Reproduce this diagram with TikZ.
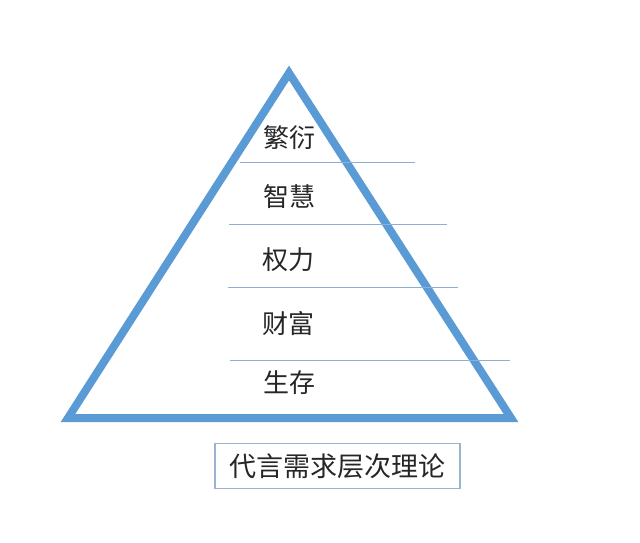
\documentclass[tikz,border=0pt]{standalone}
\usepackage{fontspec}
\newfontfamily\cjk{Noto Sans CJK SC}
\definecolor{pyrblue}{HTML}{5B9BD5}
\definecolor{rulblue}{HTML}{8EAED8}
\definecolor{boxblue}{HTML}{9BB3CF}
\begin{document}
\begin{tikzpicture}[
    x=1pt, y=-1pt,
    level/.style={font=\cjk\fontsize{26}{30}\selectfont, text=black!85, inner sep=0pt},
    rule/.style={draw=rulblue, line width=0.9pt},
    title/.style={draw=boxblue, line width=1.2pt, font=\cjk\fontsize{27}{31}\selectfont, text=black!85, minimum width=245pt, minimum height=45pt, inner sep=0pt}
]
    \useasboundingbox (0,0) rectangle (640,543);

    % Pyramid
    \coordinate (top) at (289,73);
    \coordinate (bl) at (68,418);
    \coordinate (br) at (511,418);
    \draw[pyrblue, line width=8pt, miter limit=10] (top) -- (br) -- (bl) -- cycle;

    % Dividing lines
    \draw[rule] (240,162) -- (415,162);
    \draw[rule] (229,224) -- (447,224);
    \draw[rule] (228,287) -- (458,287);
    \draw[rule] (230,360) -- (510,360);

    % Levels
    \node[level] (fanyan) at (289,138) {繁衍};
    \node[level] (zhihui) at (289,197) {智慧};
    \node[level] (quanli) at (288,260) {权力};
    \node[level] (caifu) at (288,324) {财富};
    \node[level] (shengcun) at (289,383) {生存};

    % Caption
    \node[title] (caption) at (337.5,466) {代言需求层次理论};
\end{tikzpicture}
\end{document}
